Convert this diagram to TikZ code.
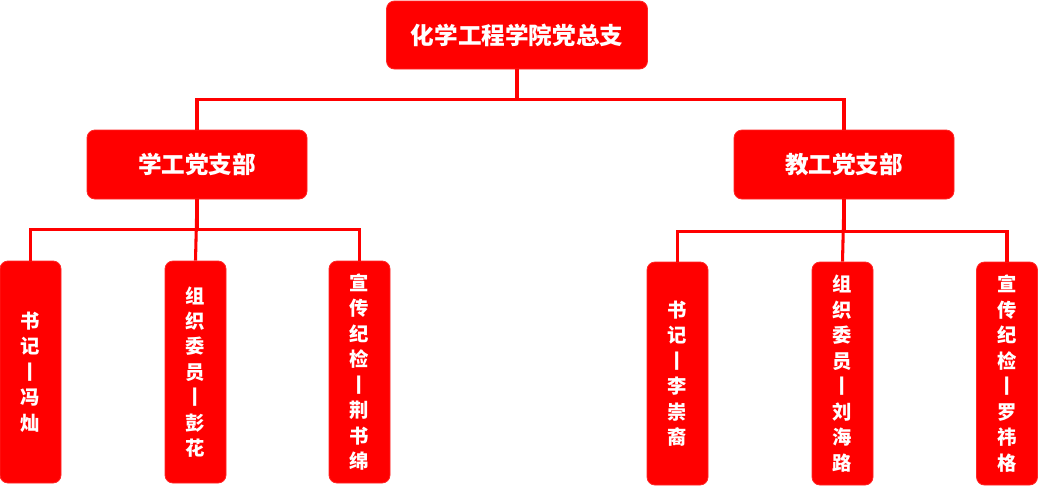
\documentclass[tikz,border=0pt]{standalone}
\usepackage{fontspec}
\newfontfamily\cjk{Noto Sans CJK SC}
\definecolor{boxred}{HTML}{FF0000}
\begin{document}
\begin{tikzpicture}[x=0.75pt,y=-0.75pt,
  box/.style={fill=boxred,draw=boxred!85!white,line width=0.6pt,rounded corners=6pt,text=white,inner sep=0pt,align=center},
  headbox/.style={box,font=\cjk\bfseries\fontsize{17.7}{20}\selectfont},
  leafbox/.style={box,minimum width=45.75pt,font=\cjk\bfseries\fontsize{14.5}{19.1}\selectfont},
  link/.style={draw=boxred,line width=2.3pt}]
\useasboundingbox (0,0) rectangle (1038,486);
\node[headbox,minimum width=195.75pt,minimum height=51pt] (top) at (517,35) {化学工程学院党总支};
\node[headbox,minimum width=165pt,minimum height=51.75pt] (L) at (197,164.5) {学工党支部};
\node[headbox,minimum width=165pt,minimum height=51.75pt] (R) at (844,164.5) {教工党支部};
\node[leafbox,minimum height=166.5pt] (L1) at (30.5,372) {书\\记\\丨\\冯\\灿};
\node[leafbox,minimum height=166.5pt] (L2) at (195.5,372) {组\\织\\委\\员\\丨\\彭\\花};
\node[leafbox,minimum height=166.5pt] (L3) at (359.5,372) {宣\\传\\纪\\检\\丨\\荆\\书\\绵};
\node[leafbox,minimum height=167.25pt] (R1) at (677.5,373.5) {书\\记\\丨\\李\\崇\\裔};
\node[leafbox,minimum height=167.25pt] (R2) at (842.5,373.5) {组\\织\\委\\员\\丨\\刘\\海\\路};
\node[leafbox,minimum height=167.25pt] (R3) at (1007,373.5) {宣\\传\\纪\\检\\丨\\罗\\祎\\格};
\draw[link] (top.south) -- ++(0,30) -| (L.north);
\draw[link] (top.south) -- ++(0,30) -| (R.north);
\draw[link] (L.south) -- ++(0,30) -| (L1.north);
\draw[link] (L.south) -- (L2.north);
\draw[link] (L.south) -- ++(0,30) -| (L3.north);
\draw[link] (R.south) -- ++(0,32) -| (R1.north);
\draw[link] (R.south) -- (R2.north);
\draw[link] (R.south) -- ++(0,32) -| (R3.north);
\end{tikzpicture}
\end{document}
